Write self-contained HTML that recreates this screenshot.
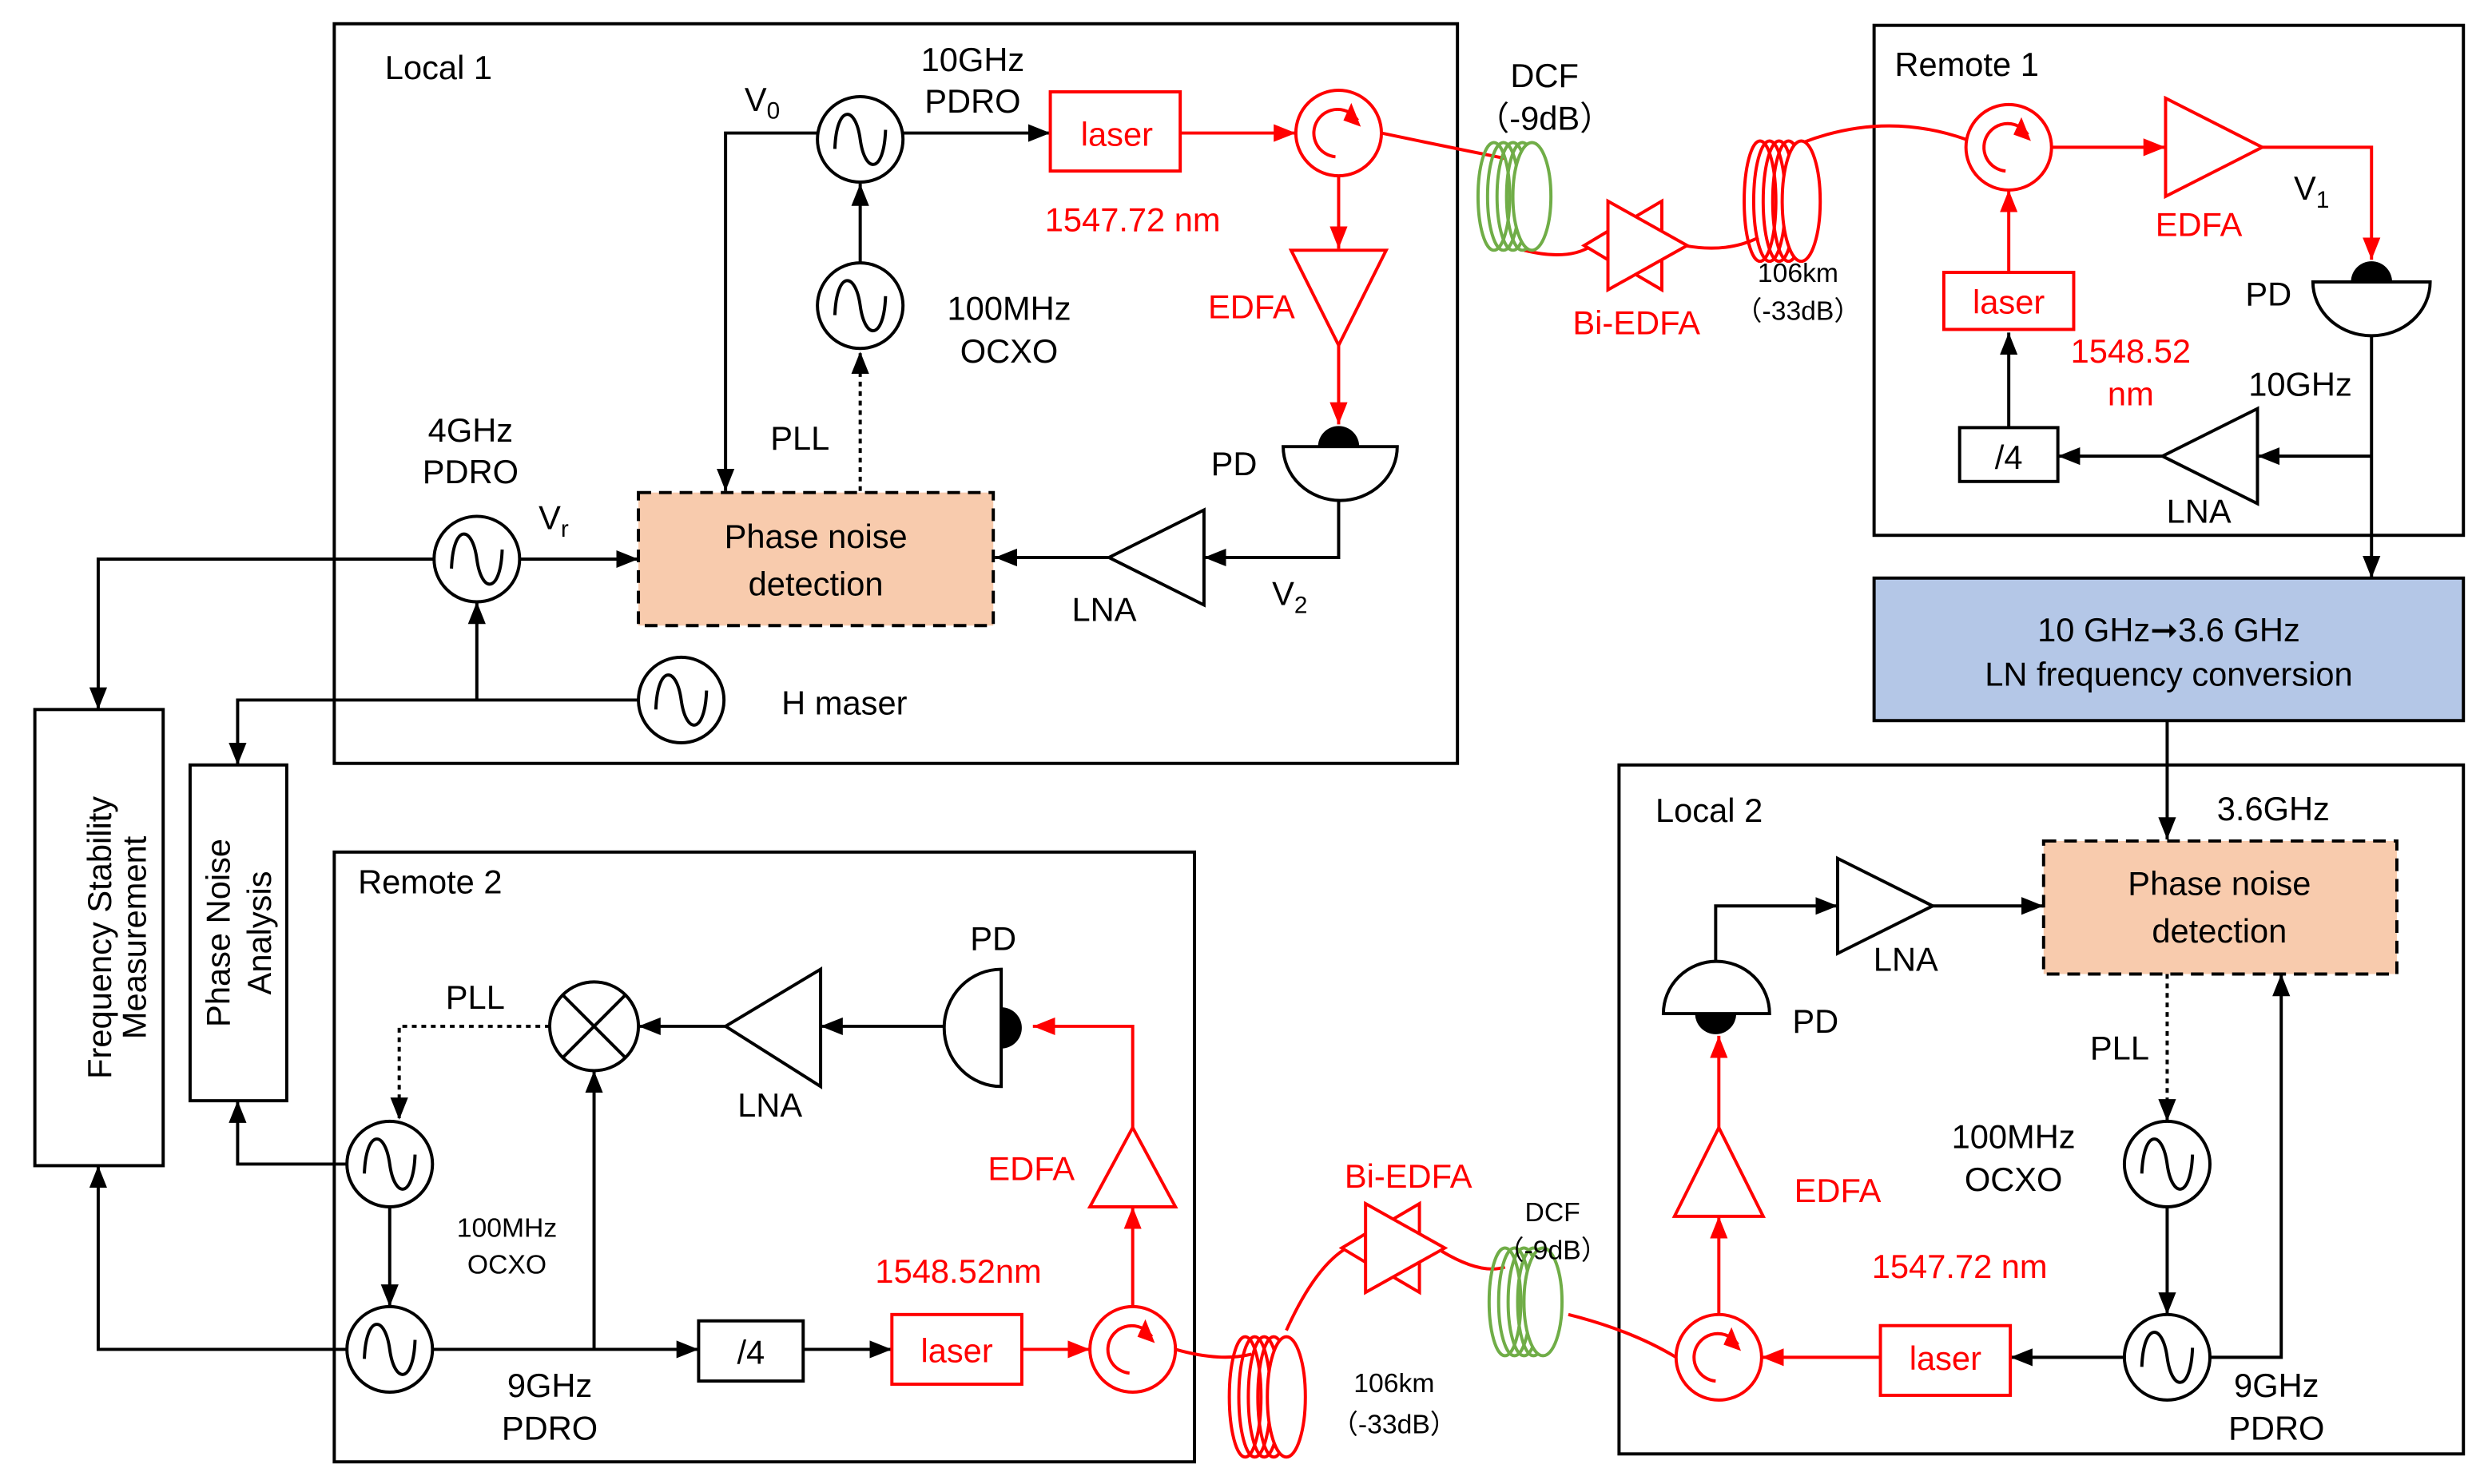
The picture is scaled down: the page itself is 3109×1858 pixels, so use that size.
<!DOCTYPE html>
<html><head><meta charset="utf-8"><style>
html,body{margin:0;padding:0;background:#fff}
svg{display:block}
text{font-family:"Liberation Sans","DejaVu Sans",sans-serif;font-size:21px;fill:#000}
.r{fill:#f00}
.s{font-size:17px}
</style></head><body>
<svg width="3109" height="1858" viewBox="0 0 1568 937" preserveAspectRatio="none" xmlns="http://www.w3.org/2000/svg">
<defs>
<marker id="A" viewBox="0 0 10 10" refX="10" refY="5" markerWidth="14" markerHeight="14" markerUnits="userSpaceOnUse" orient="auto"><path d="M0,1L10,5L0,9z" fill="#000"/></marker>
<marker id="AR" viewBox="0 0 10 10" refX="10" refY="5" markerWidth="14" markerHeight="14" markerUnits="userSpaceOnUse" orient="auto"><path d="M0,1L10,5L0,9z" fill="#f00"/></marker>
<g id="osc"><circle r="27" fill="#fff" stroke="#000" stroke-width="2"/><path d="M-16,6 C-15,-22 -3,-22 0,0 S15,22 16,-6" fill="none" stroke="#000" stroke-width="2"/></g>
<g id="circ"><circle r="27" fill="#fff" stroke="#f00" stroke-width="2"/><path d="M-2,15 A15,15 0 1 1 12,-8" fill="none" stroke="#f00" stroke-width="2"/><path d="M8,-19 L14,-4 L3,-8z" fill="#f00"/></g>
<g id="coilg" fill="none" stroke="#70ad47" stroke-width="2"><ellipse cx="-12" cy="0" rx="10" ry="34"/><ellipse cx="-6" cy="0" rx="10" ry="34"/><ellipse cx="0" cy="0" rx="10" ry="34"/><ellipse cx="6" cy="0" rx="10" ry="34"/><ellipse cx="12" cy="0" rx="12" ry="34" fill="#fff"/></g>
<g id="coilr" fill="none" stroke="#f00" stroke-width="2"><ellipse cx="-14" cy="0" rx="10" ry="38"/><ellipse cx="-8" cy="0" rx="10" ry="38"/><ellipse cx="-2" cy="0" rx="10" ry="38"/><ellipse cx="4" cy="0" rx="10" ry="38"/><ellipse cx="12" cy="0" rx="12" ry="38" fill="#fff"/></g>
<g id="bi" fill="#fff" stroke="#f00" stroke-width="2"><path d="M-25,-9 L-40,0 L-25,9z"/><path d="M-8,-18 L9,-28 L9,-8z M-8,18 L9,28 L9,8z"/><path d="M-25,-28 L25,0 L-25,28z"/></g>
</defs>
<g fill="none" stroke="#000" stroke-width="2">
<rect x="211" y="15" width="709" height="467"/>
<rect x="1183" y="16" width="372" height="322"/>
<rect x="1022" y="483" width="533" height="435"/>
<rect x="211" y="538" width="543" height="385"/>
<rect x="22" y="448" width="81" height="288"/>
<rect x="120" y="483" width="61" height="212"/>
<rect x="1183" y="365" width="372" height="90" fill="#b4c7e7"/>
<rect x="403" y="311" width="224" height="84" fill="#f8cbad" stroke-dasharray="8,5"/>
<rect x="1290" y="531" width="223" height="84" fill="#f8cbad" stroke-dasharray="8,5"/>
<path d="M516,84 H458 V310" marker-end="url(#A)"/>
<path d="M570,84 H663" marker-end="url(#A)"/>
<path d="M543,166 V116" marker-end="url(#A)"/>
<path d="M543,310 V222" stroke-dasharray="3,3" marker-end="url(#A)"/>
<path d="M845,316 V352 H760" marker-end="url(#A)"/>
<path d="M700,352 H628" marker-end="url(#A)"/>
<path d="M760,322 L700,352 L760,382z"/>
<path d="M810,282 H882 A36,34 0 0 1 810,282z"/>
<path d="M328,353 H403" marker-end="url(#A)"/>
<path d="M403,442 H150 V483" marker-end="url(#A)"/>
<path d="M301,442 V380" marker-end="url(#A)"/>
<path d="M274,353 H62 V448" marker-end="url(#A)"/>
<path d="M1497,212 V365" marker-end="url(#A)"/>
<path d="M1497,288 H1425" marker-end="url(#A)"/>
<path d="M1425,258 L1365,288 L1425,318z"/>
<path d="M1365,288 H1299" marker-end="url(#A)"/>
<rect x="1237" y="270" width="62" height="34"/>
<path d="M1268,270 V210" marker-end="url(#A)"/>
<path d="M1460,178 H1534 A37,34 0 0 1 1460,178z"/>
<path d="M1368,455 V530" marker-end="url(#A)"/>
<path d="M1160,542 L1220,572 L1160,602z"/>
<path d="M1220,572 H1290" marker-end="url(#A)"/>
<path d="M1083,607 V572 H1160" marker-end="url(#A)"/>
<path d="M1050,640 H1117 A33.5,33 0 0 0 1050,640z"/>
<path d="M1341,857 H1269" marker-end="url(#A)"/>
<path d="M1395,857 H1440 V615" marker-end="url(#A)"/>
<path d="M1368,762 V830" marker-end="url(#A)"/>
<path d="M1368,615 V708" stroke-dasharray="3,3" marker-end="url(#A)"/>
<path d="M518,612 L458,648 L518,686z"/>
<path d="M596,648 H518" marker-end="url(#A)"/>
<path d="M458,648 H403" marker-end="url(#A)"/>
<path d="M632,612 V686 A36,37 0 0 1 632,612z"/>
<path d="M347,648 H252 V707" stroke-dasharray="3,3" marker-end="url(#A)"/>
<path d="M246,762 V825" marker-end="url(#A)"/>
<path d="M273,852 H441" marker-end="url(#A)"/>
<rect x="441" y="834" width="66" height="38"/>
<path d="M507,852 H563" marker-end="url(#A)"/>
<path d="M375,852 V676" marker-end="url(#A)"/>
<path d="M219,735 H150 V695" marker-end="url(#A)"/>
<path d="M219,852 H62 V736" marker-end="url(#A)"/>
<circle cx="375" cy="648" r="28" fill="#fff"/>
<path d="M355,628 L395,668 M395,628 L355,668"/>
</g>
<path d="M832,282 A13,13 0 0 1 858,282z" fill="#000"/>
<path d="M1484,178 A13,13 0 0 1 1510,178z" fill="#000"/>
<path d="M1070,640 A13,13 0 0 0 1096,640z" fill="#000"/>
<path d="M632,636 A13,13 0 0 1 632,662z" fill="#000"/>
<use href="#osc" x="543" y="88"/>
<use href="#osc" x="543" y="193"/>
<use href="#osc" x="301" y="353"/>
<use href="#osc" x="430" y="442"/>
<use href="#osc" x="1368" y="735"/>
<use href="#osc" x="1368" y="857"/>
<use href="#osc" x="246" y="735"/>
<use href="#osc" x="246" y="852"/>
<g fill="none" stroke="#f00" stroke-width="2">
<rect x="663" y="58" width="82" height="50"/>
<path d="M745,84 H818" marker-end="url(#AR)"/>
<path d="M845,111 V157" marker-end="url(#AR)"/>
<path d="M815,158 H875 L845,218z"/>
<path d="M845,218 V268" marker-end="url(#AR)"/>
<path d="M872,84 Q910,92 950,100"/>
<path d="M962,158 Q990,165 1005,155"/>
<path d="M1063,155 Q1090,160 1110,150"/>
<path d="M1138,90 Q1190,70 1241,88"/>
<path d="M1295,93 H1367" marker-end="url(#AR)"/>
<path d="M1367,62 L1428,93 L1367,124z"/>
<path d="M1428,93 H1497 V164" marker-end="url(#AR)"/>
<rect x="1227" y="172" width="82" height="36"/>
<path d="M1268,172 V120" marker-end="url(#AR)"/>
<rect x="1187" y="837" width="82" height="44"/>
<path d="M1187,857 H1112" marker-end="url(#AR)"/>
<path d="M1085,830 V768" marker-end="url(#AR)"/>
<path d="M1085,712 L1113,768 L1057,768z"/>
<path d="M1085,712 V654" marker-end="url(#AR)"/>
<path d="M990,830 Q1030,840 1058,857"/>
<rect x="563" y="830" width="82" height="44"/>
<path d="M645,852 H688" marker-end="url(#AR)"/>
<path d="M715,825 V762" marker-end="url(#AR)"/>
<path d="M715,712 L742,762 L688,762z"/>
<path d="M715,712 V648 H652" marker-end="url(#AR)"/>
<path d="M742,852 Q770,860 790,855"/>
<path d="M812,840 Q830,800 850,788"/>
<path d="M910,790 Q935,805 950,800"/>
</g>
<use href="#circ" x="845" y="84"/>
<use href="#circ" x="1268" y="93"/>
<use href="#circ" x="1085" y="857"/>
<use href="#circ" x="715" y="852"/>
<use href="#coilg" x="955" y="124"/>
<use href="#coilr" x="1125" y="127"/>
<use href="#bi" x="1040" y="155"/>
<use href="#coilr" x="800" y="882"/>
<use href="#bi" x="887" y="788"/>
<use href="#coilg" x="962" y="822"/>
<text x="243" y="50">Local 1</text>
<text x="1196" y="48">Remote 1</text>
<text x="1045" y="519">Local 2</text>
<text x="226" y="564">Remote 2</text>
<text x="1369" y="405" text-anchor="middle">10 GHz➞3.6 GHz</text>
<text x="1369" y="433" text-anchor="middle">LN frequency conversion</text>
<text x="515" y="346" text-anchor="middle">Phase noise</text>
<text x="515" y="376" text-anchor="middle">detection</text>
<text x="1401" y="565" text-anchor="middle">Phase noise</text>
<text x="1401" y="595" text-anchor="middle">detection</text>
<text transform="translate(70,592) rotate(-90)" text-anchor="middle">Frequency Stability</text>
<text transform="translate(95,592) rotate(-90)" text-anchor="middle" dy="-3">Measurement</text>
<text transform="translate(145,589) rotate(-90)" text-anchor="middle">Phase Noise</text>
<text transform="translate(171,589) rotate(-90)" text-anchor="middle">Analysis</text>
<text x="614" y="45" text-anchor="middle">10GHz</text>
<text x="614" y="71" text-anchor="middle">PDRO</text>
<text x="470" y="70">V<tspan font-size="15" dy="5">0</tspan></text>
<text x="705" y="92" text-anchor="middle" class="r">laser</text>
<text x="715" y="146" text-anchor="middle" class="r">1547.72 nm</text>
<text x="637" y="202" text-anchor="middle">100MHz</text>
<text x="637" y="229" text-anchor="middle">OCXO</text>
<text x="790" y="201" text-anchor="middle" class="r">EDFA</text>
<text x="505" y="284" text-anchor="middle">PLL</text>
<text x="779" y="300" text-anchor="middle">PD</text>
<text x="297" y="279" text-anchor="middle">4GHz</text>
<text x="297" y="305" text-anchor="middle">PDRO</text>
<text x="340" y="334">V<tspan font-size="15" dy="5">r</tspan></text>
<text x="803" y="382">V<tspan font-size="15" dy="5">2</tspan></text>
<text x="697" y="392" text-anchor="middle">LNA</text>
<text x="533" y="451" text-anchor="middle">H maser</text>
<text x="975" y="55" text-anchor="middle">DCF</text>
<text x="975" y="82" text-anchor="middle">（-9dB）</text>
<text x="1033" y="211" text-anchor="middle" class="r">Bi-EDFA</text>
<text x="1135" y="178" text-anchor="middle" class="s">106km</text>
<text x="1135" y="202" text-anchor="middle" class="s">（-33dB）</text>
<text x="1388" y="149" text-anchor="middle" class="r">EDFA</text>
<text x="1448" y="126">V<tspan font-size="15" dy="5">1</tspan></text>
<text x="1432" y="193" text-anchor="middle">PD</text>
<text x="1268" y="198" text-anchor="middle" class="r">laser</text>
<text x="1345" y="229" text-anchor="middle" class="r">1548.52</text>
<text x="1345" y="256" text-anchor="middle" class="r">nm</text>
<text x="1452" y="250" text-anchor="middle">10GHz</text>
<text x="1268" y="296" text-anchor="middle">/4</text>
<text x="1388" y="330" text-anchor="middle">LNA</text>
<text x="1435" y="518" text-anchor="middle">3.6GHz</text>
<text x="1203" y="613" text-anchor="middle">LNA</text>
<text x="1146" y="652" text-anchor="middle">PD</text>
<text x="1338" y="669" text-anchor="middle">PLL</text>
<text x="1271" y="725" text-anchor="middle">100MHz</text>
<text x="1271" y="752" text-anchor="middle">OCXO</text>
<text x="1160" y="759" text-anchor="middle" class="r">EDFA</text>
<text x="1237" y="807" text-anchor="middle" class="r">1547.72 nm</text>
<text x="1228" y="865" text-anchor="middle" class="r">laser</text>
<text x="1437" y="882" text-anchor="middle">9GHz</text>
<text x="1437" y="909" text-anchor="middle">PDRO</text>
<text x="627" y="600" text-anchor="middle">PD</text>
<text x="300" y="637" text-anchor="middle">PLL</text>
<text x="486" y="705" text-anchor="middle">LNA</text>
<text x="651" y="745" text-anchor="middle" class="r">EDFA</text>
<text x="320" y="781" text-anchor="middle" class="s">100MHz</text>
<text x="320" y="804" text-anchor="middle" class="s">OCXO</text>
<text x="605" y="810" text-anchor="middle" class="r">1548.52nm</text>
<text x="474" y="861" text-anchor="middle">/4</text>
<text x="604" y="860" text-anchor="middle" class="r">laser</text>
<text x="347" y="882" text-anchor="middle">9GHz</text>
<text x="347" y="909" text-anchor="middle">PDRO</text>
<text x="889" y="750" text-anchor="middle" class="r">Bi-EDFA</text>
<text x="980" y="771" text-anchor="middle" class="s">DCF</text>
<text x="980" y="795" text-anchor="middle" class="s">（-9dB）</text>
<text x="880" y="879" text-anchor="middle" class="s">106km</text>
<text x="880" y="905" text-anchor="middle" class="s">（-33dB）</text>
</svg>
</body></html>
